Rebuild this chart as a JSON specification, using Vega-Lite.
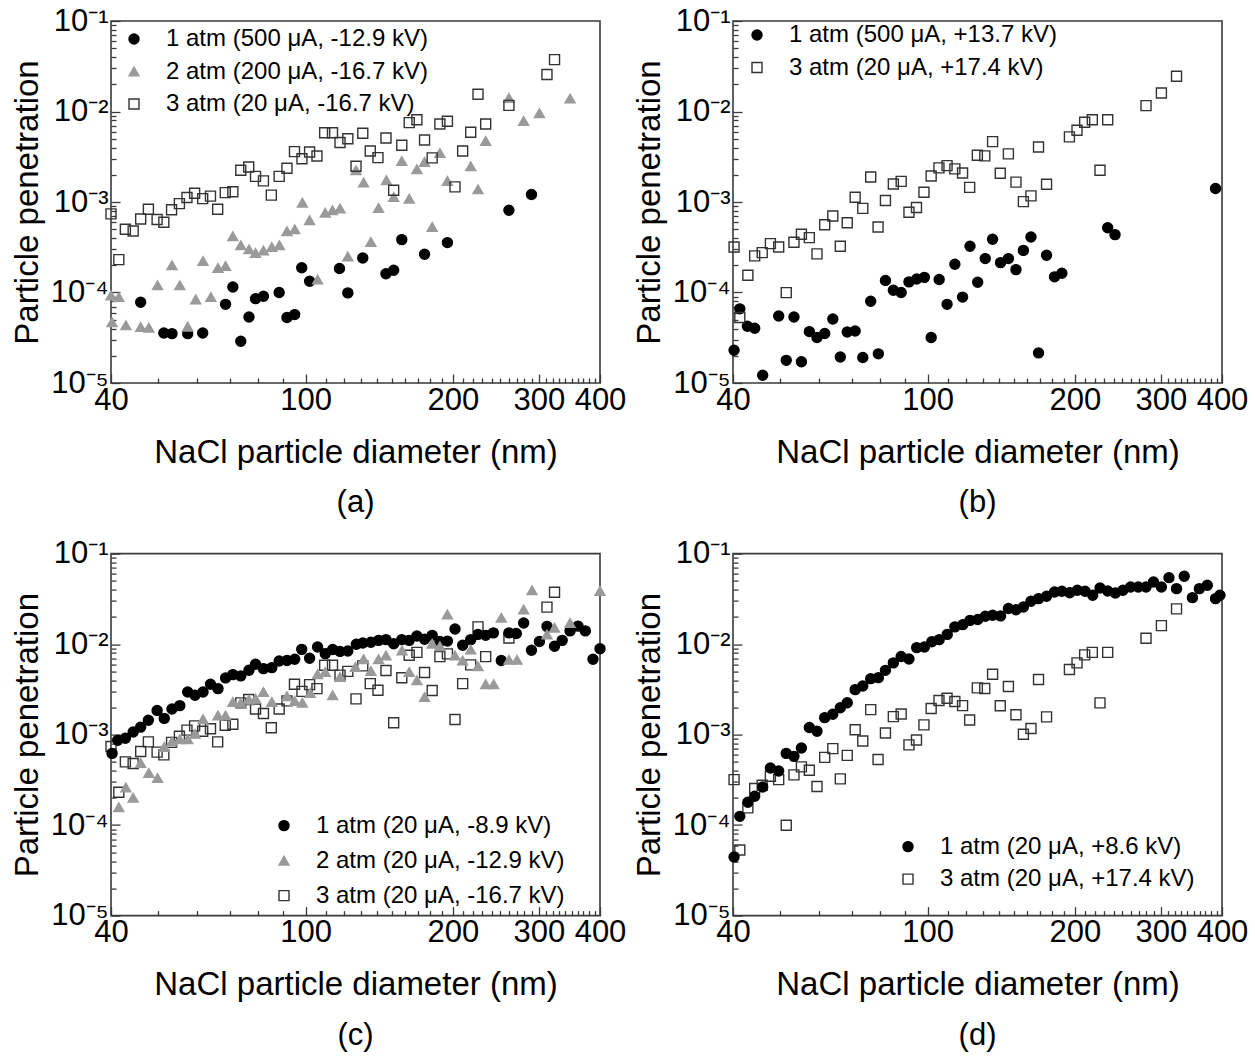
{
"$schema": "https://vega.github.io/schema/vega-lite/v6.json",
"background": "white",
"padding": {"left": 10, "top": 4, "right": 0, "bottom": 0},
"config": {
  "font": "Liberation Sans",
  "view": {"stroke": "#3a3a3a", "strokeWidth": 1.6},
  "axis": {"grid": false, "domain": false, "labelColor": "#000", "titleColor": "#000", "labelFont": "Liberation Sans", "titleFont": "Liberation Sans", "titleFontWeight": "normal", "tickColor": "#3a3a3a", "tickWidth": 1.3, "labelFlush": false, "labelOverlap": false, "labelBound": false},
  "legend": {"title": null, "labelFontSize": 24, "labelFont": "Liberation Sans", "labelColor": "#000", "labelOffset": 20, "padding": 0, "labelLimit": 600, "symbolSize": 100, "symbolStrokeWidth": 1.4, "rowPadding": 8.5, "direction": "vertical", "orient": "none"},
  "title": {"fontSize": 31, "fontWeight": "normal", "orient": "bottom", "offset": 19, "color": "#000", "font": "Liberation Sans", "anchor": "middle"}
},
"data": {"values": [
{"s":"1 atm (500 μA, -12.9 kV)","d":46.0,"p":7.8e-5},{"s":"1 atm (500 μA, -12.9 kV)","d":51.3,"p":3.57e-5},{"s":"1 atm (500 μA, -12.9 kV)","d":53.3,"p":3.51e-5},{"s":"1 atm (500 μA, -12.9 kV)","d":57.4,"p":3.51e-5},{"s":"1 atm (500 μA, -12.9 kV)","d":61.6,"p":3.57e-5},{"s":"1 atm (500 μA, -12.9 kV)","d":68.6,"p":7.4e-5},{"s":"1 atm (500 μA, -12.9 kV)","d":71.0,"p":1.15e-4},{"s":"1 atm (500 μA, -12.9 kV)","d":73.7,"p":2.89e-5},{"s":"1 atm (500 μA, -12.9 kV)","d":76.6,"p":5.36e-5},{"s":"1 atm (500 μA, -12.9 kV)","d":79.0,"p":8.55e-5},{"s":"1 atm (500 μA, -12.9 kV)","d":82.0,"p":9.1e-5},{"s":"1 atm (500 μA, -12.9 kV)","d":88.3,"p":1.0e-4},{"s":"1 atm (500 μA, -12.9 kV)","d":91.6,"p":5.3e-5},{"s":"1 atm (500 μA, -12.9 kV)","d":95.0,"p":5.7e-5},{"s":"1 atm (500 μA, -12.9 kV)","d":98.2,"p":1.88e-4},{"s":"1 atm (500 μA, -12.9 kV)","d":101.9,"p":1.33e-4},{"s":"1 atm (500 μA, -12.9 kV)","d":117.3,"p":1.84e-4},{"s":"1 atm (500 μA, -12.9 kV)","d":122.0,"p":9.9e-5},{"s":"1 atm (500 μA, -12.9 kV)","d":130.9,"p":2.41e-4},{"s":"1 atm (500 μA, -12.9 kV)","d":146.0,"p":1.61e-4},{"s":"1 atm (500 μA, -12.9 kV)","d":151.4,"p":1.76e-4},{"s":"1 atm (500 μA, -12.9 kV)","d":157.3,"p":3.84e-4},{"s":"1 atm (500 μA, -12.9 kV)","d":175.1,"p":2.65e-4},{"s":"1 atm (500 μA, -12.9 kV)","d":195.0,"p":3.56e-4},{"s":"1 atm (500 μA, -12.9 kV)","d":260.5,"p":8.1e-4},{"s":"1 atm (500 μA, -12.9 kV)","d":289.7,"p":1.21e-3},
{"s":"2 atm (200 μA, -16.7 kV)","d":40.0,"p":9.3e-5},{"s":"2 atm (200 μA, -16.7 kV)","d":41.5,"p":8.9e-5},{"s":"2 atm (200 μA, -16.7 kV)","d":40.2,"p":4.7e-5},{"s":"2 atm (200 μA, -16.7 kV)","d":42.9,"p":4.34e-5},{"s":"2 atm (200 μA, -16.7 kV)","d":46.0,"p":4.16e-5},{"s":"2 atm (200 μA, -16.7 kV)","d":47.8,"p":4.08e-5},{"s":"2 atm (200 μA, -16.7 kV)","d":49.8,"p":1.2e-4},{"s":"2 atm (200 μA, -16.7 kV)","d":53.3,"p":2.0e-4},{"s":"2 atm (200 μA, -16.7 kV)","d":55.3,"p":1.2e-4},{"s":"2 atm (200 μA, -16.7 kV)","d":57.4,"p":4.2e-5},{"s":"2 atm (200 μA, -16.7 kV)","d":59.6,"p":8.4e-5},{"s":"2 atm (200 μA, -16.7 kV)","d":61.7,"p":2.23e-4},{"s":"2 atm (200 μA, -16.7 kV)","d":64.0,"p":8.9e-5},{"s":"2 atm (200 μA, -16.7 kV)","d":66.2,"p":1.87e-4},{"s":"2 atm (200 μA, -16.7 kV)","d":68.6,"p":1.96e-4},{"s":"2 atm (200 μA, -16.7 kV)","d":71.0,"p":4.18e-4},{"s":"2 atm (200 μA, -16.7 kV)","d":73.7,"p":3.33e-4},{"s":"2 atm (200 μA, -16.7 kV)","d":76.6,"p":3.0e-4},{"s":"2 atm (200 μA, -16.7 kV)","d":79.0,"p":2.73e-4},{"s":"2 atm (200 μA, -16.7 kV)","d":82.0,"p":2.92e-4},{"s":"2 atm (200 μA, -16.7 kV)","d":85.3,"p":3.18e-4},{"s":"2 atm (200 μA, -16.7 kV)","d":88.4,"p":3.33e-4},{"s":"2 atm (200 μA, -16.7 kV)","d":91.6,"p":4.75e-4},{"s":"2 atm (200 μA, -16.7 kV)","d":95.0,"p":4.99e-4},{"s":"2 atm (200 μA, -16.7 kV)","d":98.5,"p":9.8e-4},{"s":"2 atm (200 μA, -16.7 kV)","d":101.9,"p":6.3e-4},{"s":"2 atm (200 μA, -16.7 kV)","d":105.8,"p":1.39e-4},{"s":"2 atm (200 μA, -16.7 kV)","d":109.7,"p":7.6e-4},{"s":"2 atm (200 μA, -16.7 kV)","d":113.5,"p":8.1e-4},{"s":"2 atm (200 μA, -16.7 kV)","d":117.6,"p":8.5e-4},{"s":"2 atm (200 μA, -16.7 kV)","d":122.0,"p":2.5e-4},{"s":"2 atm (200 μA, -16.7 kV)","d":126.8,"p":2.24e-3},{"s":"2 atm (200 μA, -16.7 kV)","d":131.4,"p":1.64e-3},{"s":"2 atm (200 μA, -16.7 kV)","d":136.0,"p":3.62e-4},{"s":"2 atm (200 μA, -16.7 kV)","d":141.0,"p":8.6e-4},{"s":"2 atm (200 μA, -16.7 kV)","d":146.3,"p":1.74e-3},{"s":"2 atm (200 μA, -16.7 kV)","d":151.4,"p":1.14e-3},{"s":"2 atm (200 μA, -16.7 kV)","d":157.3,"p":2.84e-3},{"s":"2 atm (200 μA, -16.7 kV)","d":162.9,"p":1.09e-3},{"s":"2 atm (200 μA, -16.7 kV)","d":168.9,"p":2.3e-3},{"s":"2 atm (200 μA, -16.7 kV)","d":175.1,"p":2.77e-3},{"s":"2 atm (200 μA, -16.7 kV)","d":181.5,"p":5.3e-4},{"s":"2 atm (200 μA, -16.7 kV)","d":188.2,"p":3.48e-3},{"s":"2 atm (200 μA, -16.7 kV)","d":195.0,"p":1.71e-3},{"s":"2 atm (200 μA, -16.7 kV)","d":217.6,"p":2.48e-3},{"s":"2 atm (200 μA, -16.7 kV)","d":225.2,"p":1.38e-3},{"s":"2 atm (200 μA, -16.7 kV)","d":233.5,"p":4.73e-3},{"s":"2 atm (200 μA, -16.7 kV)","d":260.5,"p":1.41e-2},{"s":"2 atm (200 μA, -16.7 kV)","d":279.2,"p":7.87e-3},{"s":"2 atm (200 μA, -16.7 kV)","d":300.7,"p":9.6e-3},{"s":"2 atm (200 μA, -16.7 kV)","d":347.4,"p":1.39e-2},
{"s":"3 atm (20 μA, -16.7 kV)","d":40.0,"p":7.4e-4},{"s":"3 atm (20 μA, -16.7 kV)","d":41.5,"p":2.31e-4},{"s":"3 atm (20 μA, -16.7 kV)","d":42.8,"p":5.0e-4},{"s":"3 atm (20 μA, -16.7 kV)","d":44.4,"p":4.79e-4},{"s":"3 atm (20 μA, -16.7 kV)","d":46.0,"p":6.5e-4},{"s":"3 atm (20 μA, -16.7 kV)","d":47.7,"p":8.3e-4},{"s":"3 atm (20 μA, -16.7 kV)","d":49.7,"p":6.4e-4},{"s":"3 atm (20 μA, -16.7 kV)","d":51.3,"p":5.97e-4},{"s":"3 atm (20 μA, -16.7 kV)","d":53.2,"p":8.2e-4},{"s":"3 atm (20 μA, -16.7 kV)","d":55.2,"p":9.6e-4},{"s":"3 atm (20 μA, -16.7 kV)","d":57.2,"p":1.12e-3},{"s":"3 atm (20 μA, -16.7 kV)","d":59.3,"p":1.25e-3},{"s":"3 atm (20 μA, -16.7 kV)","d":61.6,"p":1.09e-3},{"s":"3 atm (20 μA, -16.7 kV)","d":63.9,"p":1.16e-3},{"s":"3 atm (20 μA, -16.7 kV)","d":66.1,"p":8.3e-4},{"s":"3 atm (20 μA, -16.7 kV)","d":68.5,"p":1.27e-3},{"s":"3 atm (20 μA, -16.7 kV)","d":71.0,"p":1.3e-3},{"s":"3 atm (20 μA, -16.7 kV)","d":73.7,"p":2.24e-3},{"s":"3 atm (20 μA, -16.7 kV)","d":76.5,"p":2.44e-3},{"s":"3 atm (20 μA, -16.7 kV)","d":79.0,"p":1.92e-3},{"s":"3 atm (20 μA, -16.7 kV)","d":82.0,"p":1.71e-3},{"s":"3 atm (20 μA, -16.7 kV)","d":85.1,"p":1.19e-3},{"s":"3 atm (20 μA, -16.7 kV)","d":88.3,"p":1.92e-3},{"s":"3 atm (20 μA, -16.7 kV)","d":91.6,"p":2.36e-3},{"s":"3 atm (20 μA, -16.7 kV)","d":94.9,"p":3.6e-3},{"s":"3 atm (20 μA, -16.7 kV)","d":98.3,"p":3.0e-3},{"s":"3 atm (20 μA, -16.7 kV)","d":101.9,"p":3.57e-3},{"s":"3 atm (20 μA, -16.7 kV)","d":105.5,"p":3.22e-3},{"s":"3 atm (20 μA, -16.7 kV)","d":109.4,"p":5.83e-3},{"s":"3 atm (20 μA, -16.7 kV)","d":113.5,"p":5.83e-3},{"s":"3 atm (20 μA, -16.7 kV)","d":117.6,"p":4.54e-3},{"s":"3 atm (20 μA, -16.7 kV)","d":122.0,"p":5.0e-3},{"s":"3 atm (20 μA, -16.7 kV)","d":126.8,"p":2.48e-3},{"s":"3 atm (20 μA, -16.7 kV)","d":130.9,"p":5.74e-3},{"s":"3 atm (20 μA, -16.7 kV)","d":135.6,"p":3.66e-3},{"s":"3 atm (20 μA, -16.7 kV)","d":140.6,"p":3.09e-3},{"s":"3 atm (20 μA, -16.7 kV)","d":146.0,"p":5.1e-3},{"s":"3 atm (20 μA, -16.7 kV)","d":151.4,"p":1.35e-3},{"s":"3 atm (20 μA, -16.7 kV)","d":157.3,"p":4.24e-3},{"s":"3 atm (20 μA, -16.7 kV)","d":162.9,"p":7.54e-3},{"s":"3 atm (20 μA, -16.7 kV)","d":168.9,"p":8.1e-3},{"s":"3 atm (20 μA, -16.7 kV)","d":175.1,"p":4.85e-3},{"s":"3 atm (20 μA, -16.7 kV)","d":181.5,"p":3.07e-3},{"s":"3 atm (20 μA, -16.7 kV)","d":188.2,"p":7.28e-3},{"s":"3 atm (20 μA, -16.7 kV)","d":195.0,"p":7.8e-3},{"s":"3 atm (20 μA, -16.7 kV)","d":202.1,"p":1.47e-3},{"s":"3 atm (20 μA, -16.7 kV)","d":209.5,"p":3.66e-3},{"s":"3 atm (20 μA, -16.7 kV)","d":217.6,"p":5.9e-3},{"s":"3 atm (20 μA, -16.7 kV)","d":225.2,"p":1.55e-2},{"s":"3 atm (20 μA, -16.7 kV)","d":233.5,"p":7.28e-3},{"s":"3 atm (20 μA, -16.7 kV)","d":260.5,"p":1.17e-2},{"s":"3 atm (20 μA, -16.7 kV)","d":311.6,"p":2.56e-2},{"s":"3 atm (20 μA, -16.7 kV)","d":322.9,"p":3.74e-2},
{"s":"1 atm (500 μA, +13.7 kV)","d":40.2,"p":2.3e-5},{"s":"1 atm (500 μA, +13.7 kV)","d":41.3,"p":6.6e-5},{"s":"1 atm (500 μA, +13.7 kV)","d":42.8,"p":4.24e-5},{"s":"1 atm (500 μA, +13.7 kV)","d":44.3,"p":4.03e-5},{"s":"1 atm (500 μA, +13.7 kV)","d":46.0,"p":1.22e-5},{"s":"1 atm (500 μA, +13.7 kV)","d":49.6,"p":5.5e-5},{"s":"1 atm (500 μA, +13.7 kV)","d":51.4,"p":1.78e-5},{"s":"1 atm (500 μA, +13.7 kV)","d":53.3,"p":5.37e-5},{"s":"1 atm (500 μA, +13.7 kV)","d":55.2,"p":1.72e-5},{"s":"1 atm (500 μA, +13.7 kV)","d":57.3,"p":3.7e-5},{"s":"1 atm (500 μA, +13.7 kV)","d":59.4,"p":3.18e-5},{"s":"1 atm (500 μA, +13.7 kV)","d":61.6,"p":3.52e-5},{"s":"1 atm (500 μA, +13.7 kV)","d":64.0,"p":5.1e-5},{"s":"1 atm (500 μA, +13.7 kV)","d":66.3,"p":1.94e-5},{"s":"1 atm (500 μA, +13.7 kV)","d":68.5,"p":3.66e-5},{"s":"1 atm (500 μA, +13.7 kV)","d":71.1,"p":3.76e-5},{"s":"1 atm (500 μA, +13.7 kV)","d":73.7,"p":1.91e-5},{"s":"1 atm (500 μA, +13.7 kV)","d":76.5,"p":8.0e-5},{"s":"1 atm (500 μA, +13.7 kV)","d":79.3,"p":2.1e-5},{"s":"1 atm (500 μA, +13.7 kV)","d":82.0,"p":1.36e-4},{"s":"1 atm (500 μA, +13.7 kV)","d":85.1,"p":1.06e-4},{"s":"1 atm (500 μA, +13.7 kV)","d":88.3,"p":1.0e-4},{"s":"1 atm (500 μA, +13.7 kV)","d":91.6,"p":1.31e-4},{"s":"1 atm (500 μA, +13.7 kV)","d":95.0,"p":1.41e-4},{"s":"1 atm (500 μA, +13.7 kV)","d":98.5,"p":1.47e-4},{"s":"1 atm (500 μA, +13.7 kV)","d":101.7,"p":3.18e-5},{"s":"1 atm (500 μA, +13.7 kV)","d":105.6,"p":1.39e-4},{"s":"1 atm (500 μA, +13.7 kV)","d":109.6,"p":7.4e-5},{"s":"1 atm (500 μA, +13.7 kV)","d":113.7,"p":2.05e-4},{"s":"1 atm (500 μA, +13.7 kV)","d":117.9,"p":8.9e-5},{"s":"1 atm (500 μA, +13.7 kV)","d":122.1,"p":3.24e-4},{"s":"1 atm (500 μA, +13.7 kV)","d":126.6,"p":1.3e-4},{"s":"1 atm (500 μA, +13.7 kV)","d":131.2,"p":2.37e-4},{"s":"1 atm (500 μA, +13.7 kV)","d":135.8,"p":3.87e-4},{"s":"1 atm (500 μA, +13.7 kV)","d":141.0,"p":2.14e-4},{"s":"1 atm (500 μA, +13.7 kV)","d":146.3,"p":2.37e-4},{"s":"1 atm (500 μA, +13.7 kV)","d":151.6,"p":1.79e-4},{"s":"1 atm (500 μA, +13.7 kV)","d":157.0,"p":2.92e-4},{"s":"1 atm (500 μA, +13.7 kV)","d":162.7,"p":4.1e-4},{"s":"1 atm (500 μA, +13.7 kV)","d":168.6,"p":2.15e-5},{"s":"1 atm (500 μA, +13.7 kV)","d":175.1,"p":2.58e-4},{"s":"1 atm (500 μA, +13.7 kV)","d":181.8,"p":1.49e-4},{"s":"1 atm (500 μA, +13.7 kV)","d":188.2,"p":1.63e-4},{"s":"1 atm (500 μA, +13.7 kV)","d":233.5,"p":5.2e-4},{"s":"1 atm (500 μA, +13.7 kV)","d":241.7,"p":4.36e-4},{"s":"1 atm (500 μA, +13.7 kV)","d":388.0,"p":1.41e-3},
{"s":"3 atm (20 μA, +17.4 kV)","d":40.2,"p":3.18e-4},{"s":"3 atm (20 μA, +17.4 kV)","d":41.3,"p":5.3e-5},{"s":"3 atm (20 μA, +17.4 kV)","d":42.9,"p":1.55e-4},{"s":"3 atm (20 μA, +17.4 kV)","d":44.3,"p":2.54e-4},{"s":"3 atm (20 μA, +17.4 kV)","d":45.9,"p":2.76e-4},{"s":"3 atm (20 μA, +17.4 kV)","d":47.7,"p":3.47e-4},{"s":"3 atm (20 μA, +17.4 kV)","d":49.6,"p":3.18e-4},{"s":"3 atm (20 μA, +17.4 kV)","d":51.4,"p":9.97e-5},{"s":"3 atm (20 μA, +17.4 kV)","d":53.3,"p":3.59e-4},{"s":"3 atm (20 μA, +17.4 kV)","d":55.2,"p":4.4e-4},{"s":"3 atm (20 μA, +17.4 kV)","d":57.3,"p":4.04e-4},{"s":"3 atm (20 μA, +17.4 kV)","d":59.4,"p":2.67e-4},{"s":"3 atm (20 μA, +17.4 kV)","d":61.6,"p":5.6e-4},{"s":"3 atm (20 μA, +17.4 kV)","d":64.0,"p":7.0e-4},{"s":"3 atm (20 μA, +17.4 kV)","d":66.3,"p":3.24e-4},{"s":"3 atm (20 μA, +17.4 kV)","d":68.5,"p":5.9e-4},{"s":"3 atm (20 μA, +17.4 kV)","d":71.1,"p":1.13e-3},{"s":"3 atm (20 μA, +17.4 kV)","d":73.7,"p":8.5e-4},{"s":"3 atm (20 μA, +17.4 kV)","d":76.5,"p":1.89e-3},{"s":"3 atm (20 μA, +17.4 kV)","d":79.2,"p":5.3e-4},{"s":"3 atm (20 μA, +17.4 kV)","d":82.0,"p":1.04e-3},{"s":"3 atm (20 μA, +17.4 kV)","d":85.1,"p":1.58e-3},{"s":"3 atm (20 μA, +17.4 kV)","d":88.3,"p":1.69e-3},{"s":"3 atm (20 μA, +17.4 kV)","d":91.6,"p":7.7e-4},{"s":"3 atm (20 μA, +17.4 kV)","d":94.9,"p":8.7e-4},{"s":"3 atm (20 μA, +17.4 kV)","d":98.3,"p":1.28e-3},{"s":"3 atm (20 μA, +17.4 kV)","d":101.7,"p":1.94e-3},{"s":"3 atm (20 μA, +17.4 kV)","d":105.5,"p":2.38e-3},{"s":"3 atm (20 μA, +17.4 kV)","d":109.6,"p":2.52e-3},{"s":"3 atm (20 μA, +17.4 kV)","d":113.7,"p":2.32e-3},{"s":"3 atm (20 μA, +17.4 kV)","d":117.9,"p":2.09e-3},{"s":"3 atm (20 μA, +17.4 kV)","d":121.9,"p":1.45e-3},{"s":"3 atm (20 μA, +17.4 kV)","d":126.4,"p":3.28e-3},{"s":"3 atm (20 μA, +17.4 kV)","d":130.9,"p":3.23e-3},{"s":"3 atm (20 μA, +17.4 kV)","d":135.8,"p":4.65e-3},{"s":"3 atm (20 μA, +17.4 kV)","d":140.8,"p":2.08e-3},{"s":"3 atm (20 μA, +17.4 kV)","d":146.3,"p":3.4e-3},{"s":"3 atm (20 μA, +17.4 kV)","d":151.6,"p":1.66e-3},{"s":"3 atm (20 μA, +17.4 kV)","d":157.0,"p":1.01e-3},{"s":"3 atm (20 μA, +17.4 kV)","d":162.7,"p":1.17e-3},{"s":"3 atm (20 μA, +17.4 kV)","d":168.6,"p":4.06e-3},{"s":"3 atm (20 μA, +17.4 kV)","d":175.1,"p":1.57e-3},{"s":"3 atm (20 μA, +17.4 kV)","d":195.0,"p":5.24e-3},{"s":"3 atm (20 μA, +17.4 kV)","d":202.1,"p":6.2e-3},{"s":"3 atm (20 μA, +17.4 kV)","d":209.5,"p":7.6e-3},{"s":"3 atm (20 μA, +17.4 kV)","d":217.2,"p":8.1e-3},{"s":"3 atm (20 μA, +17.4 kV)","d":225.2,"p":2.24e-3},{"s":"3 atm (20 μA, +17.4 kV)","d":233.5,"p":8.1e-3},{"s":"3 atm (20 μA, +17.4 kV)","d":279.7,"p":1.16e-2},{"s":"3 atm (20 μA, +17.4 kV)","d":300.7,"p":1.6e-2},{"s":"3 atm (20 μA, +17.4 kV)","d":322.9,"p":2.45e-2},
{"s":"1 atm (20 μA, -8.9 kV)","d":40.2,"p":6.2e-4},{"s":"1 atm (20 μA, -8.9 kV)","d":41.3,"p":8.65e-4},{"s":"1 atm (20 μA, -8.9 kV)","d":42.8,"p":9.1e-4},{"s":"1 atm (20 μA, -8.9 kV)","d":44.4,"p":1.07e-3},{"s":"1 atm (20 μA, -8.9 kV)","d":46.0,"p":1.21e-3},{"s":"1 atm (20 μA, -8.9 kV)","d":47.7,"p":1.44e-3},{"s":"1 atm (20 μA, -8.9 kV)","d":49.7,"p":1.85e-3},{"s":"1 atm (20 μA, -8.9 kV)","d":51.4,"p":1.51e-3},{"s":"1 atm (20 μA, -8.9 kV)","d":53.3,"p":1.92e-3},{"s":"1 atm (20 μA, -8.9 kV)","d":55.3,"p":2.09e-3},{"s":"1 atm (20 μA, -8.9 kV)","d":57.4,"p":2.96e-3},{"s":"1 atm (20 μA, -8.9 kV)","d":59.4,"p":2.72e-3},{"s":"1 atm (20 μA, -8.9 kV)","d":61.7,"p":2.96e-3},{"s":"1 atm (20 μA, -8.9 kV)","d":63.9,"p":3.6e-3},{"s":"1 atm (20 μA, -8.9 kV)","d":66.2,"p":3.22e-3},{"s":"1 atm (20 μA, -8.9 kV)","d":68.6,"p":4.23e-3},{"s":"1 atm (20 μA, -8.9 kV)","d":71.0,"p":4.6e-3},{"s":"1 atm (20 μA, -8.9 kV)","d":73.7,"p":4.45e-3},{"s":"1 atm (20 μA, -8.9 kV)","d":76.6,"p":5.14e-3},{"s":"1 atm (20 μA, -8.9 kV)","d":79.0,"p":5.98e-3},{"s":"1 atm (20 μA, -8.9 kV)","d":82.0,"p":5.36e-3},{"s":"1 atm (20 μA, -8.9 kV)","d":85.3,"p":5.5e-3},{"s":"1 atm (20 μA, -8.9 kV)","d":88.3,"p":6.5e-3},{"s":"1 atm (20 μA, -8.9 kV)","d":91.6,"p":6.6e-3},{"s":"1 atm (20 μA, -8.9 kV)","d":95.0,"p":6.8e-3},{"s":"1 atm (20 μA, -8.9 kV)","d":98.2,"p":8.75e-3},{"s":"1 atm (20 μA, -8.9 kV)","d":101.9,"p":6.97e-3},{"s":"1 atm (20 μA, -8.9 kV)","d":105.8,"p":9.3e-3},{"s":"1 atm (20 μA, -8.9 kV)","d":109.7,"p":7.85e-3},{"s":"1 atm (20 μA, -8.9 kV)","d":113.6,"p":8.7e-3},{"s":"1 atm (20 μA, -8.9 kV)","d":117.6,"p":8.3e-3},{"s":"1 atm (20 μA, -8.9 kV)","d":122.0,"p":8.4e-3},{"s":"1 atm (20 μA, -8.9 kV)","d":127.0,"p":9.95e-3},{"s":"1 atm (20 μA, -8.9 kV)","d":130.9,"p":1.03e-2},{"s":"1 atm (20 μA, -8.9 kV)","d":136.0,"p":1.05e-2},{"s":"1 atm (20 μA, -8.9 kV)","d":141.0,"p":1.1e-2},{"s":"1 atm (20 μA, -8.9 kV)","d":146.0,"p":1.12e-2},{"s":"1 atm (20 μA, -8.9 kV)","d":151.4,"p":1.01e-2},{"s":"1 atm (20 μA, -8.9 kV)","d":157.3,"p":1.12e-2},{"s":"1 atm (20 μA, -8.9 kV)","d":162.9,"p":1.1e-2},{"s":"1 atm (20 μA, -8.9 kV)","d":168.9,"p":1.23e-2},{"s":"1 atm (20 μA, -8.9 kV)","d":175.1,"p":1.13e-2},{"s":"1 atm (20 μA, -8.9 kV)","d":181.5,"p":1.25e-2},{"s":"1 atm (20 μA, -8.9 kV)","d":188.2,"p":1.07e-2},{"s":"1 atm (20 μA, -8.9 kV)","d":195.0,"p":1.08e-2},{"s":"1 atm (20 μA, -8.9 kV)","d":202.1,"p":1.47e-2},{"s":"1 atm (20 μA, -8.9 kV)","d":209.5,"p":9.7e-3},{"s":"1 atm (20 μA, -8.9 kV)","d":217.6,"p":1.12e-2},{"s":"1 atm (20 μA, -8.9 kV)","d":225.2,"p":1.28e-2},{"s":"1 atm (20 μA, -8.9 kV)","d":233.5,"p":1.25e-2},{"s":"1 atm (20 μA, -8.9 kV)","d":242.1,"p":1.33e-2},{"s":"1 atm (20 μA, -8.9 kV)","d":251.3,"p":6.6e-3},{"s":"1 atm (20 μA, -8.9 kV)","d":260.5,"p":1.33e-2},{"s":"1 atm (20 μA, -8.9 kV)","d":269.7,"p":1.31e-2},{"s":"1 atm (20 μA, -8.9 kV)","d":279.2,"p":1.71e-2},{"s":"1 atm (20 μA, -8.9 kV)","d":289.7,"p":8.55e-3},{"s":"1 atm (20 μA, -8.9 kV)","d":300.7,"p":1.07e-2},{"s":"1 atm (20 μA, -8.9 kV)","d":311.6,"p":1.57e-2},{"s":"1 atm (20 μA, -8.9 kV)","d":322.9,"p":9.46e-3},{"s":"1 atm (20 μA, -8.9 kV)","d":334.8,"p":1.1e-2},{"s":"1 atm (20 μA, -8.9 kV)","d":347.4,"p":1.4e-2},{"s":"1 atm (20 μA, -8.9 kV)","d":360.6,"p":1.58e-2},{"s":"1 atm (20 μA, -8.9 kV)","d":373.3,"p":1.4e-2},{"s":"1 atm (20 μA, -8.9 kV)","d":387.0,"p":6.8e-3},{"s":"1 atm (20 μA, -8.9 kV)","d":400.0,"p":8.9e-3},
{"s":"2 atm (20 μA, -12.9 kV)","d":41.5,"p":1.58e-4},{"s":"2 atm (20 μA, -12.9 kV)","d":42.9,"p":2.6e-4},{"s":"2 atm (20 μA, -12.9 kV)","d":44.4,"p":2.01e-4},{"s":"2 atm (20 μA, -12.9 kV)","d":46.0,"p":4.86e-4},{"s":"2 atm (20 μA, -12.9 kV)","d":47.8,"p":3.77e-4},{"s":"2 atm (20 μA, -12.9 kV)","d":49.8,"p":3.32e-4},{"s":"2 atm (20 μA, -12.9 kV)","d":51.4,"p":7.3e-4},{"s":"2 atm (20 μA, -12.9 kV)","d":53.3,"p":8.4e-4},{"s":"2 atm (20 μA, -12.9 kV)","d":55.3,"p":8.9e-4},{"s":"2 atm (20 μA, -12.9 kV)","d":57.4,"p":8.9e-4},{"s":"2 atm (20 μA, -12.9 kV)","d":59.4,"p":1.02e-3},{"s":"2 atm (20 μA, -12.9 kV)","d":61.7,"p":1.48e-3},{"s":"2 atm (20 μA, -12.9 kV)","d":66.2,"p":1.63e-3},{"s":"2 atm (20 μA, -12.9 kV)","d":68.6,"p":1.63e-3},{"s":"2 atm (20 μA, -12.9 kV)","d":71.0,"p":2.29e-3},{"s":"2 atm (20 μA, -12.9 kV)","d":73.7,"p":2.25e-3},{"s":"2 atm (20 μA, -12.9 kV)","d":76.6,"p":2.43e-3},{"s":"2 atm (20 μA, -12.9 kV)","d":79.0,"p":2.49e-3},{"s":"2 atm (20 μA, -12.9 kV)","d":82.0,"p":2.96e-3},{"s":"2 atm (20 μA, -12.9 kV)","d":85.3,"p":2.29e-3},{"s":"2 atm (20 μA, -12.9 kV)","d":91.6,"p":2.65e-3},{"s":"2 atm (20 μA, -12.9 kV)","d":95.0,"p":2.36e-3},{"s":"2 atm (20 μA, -12.9 kV)","d":98.5,"p":2.25e-3},{"s":"2 atm (20 μA, -12.9 kV)","d":102.2,"p":2.88e-3},{"s":"2 atm (20 μA, -12.9 kV)","d":105.8,"p":4.64e-3},{"s":"2 atm (20 μA, -12.9 kV)","d":109.7,"p":4.92e-3},{"s":"2 atm (20 μA, -12.9 kV)","d":113.6,"p":2.72e-3},{"s":"2 atm (20 μA, -12.9 kV)","d":117.6,"p":4.34e-3},{"s":"2 atm (20 μA, -12.9 kV)","d":126.4,"p":5.59e-3},{"s":"2 atm (20 μA, -12.9 kV)","d":131.4,"p":6.8e-3},{"s":"2 atm (20 μA, -12.9 kV)","d":136.0,"p":5.05e-3},{"s":"2 atm (20 μA, -12.9 kV)","d":141.0,"p":6.8e-3},{"s":"2 atm (20 μA, -12.9 kV)","d":146.0,"p":7.5e-3},{"s":"2 atm (20 μA, -12.9 kV)","d":157.5,"p":8.5e-3},{"s":"2 atm (20 μA, -12.9 kV)","d":162.9,"p":4.92e-3},{"s":"2 atm (20 μA, -12.9 kV)","d":168.9,"p":3.98e-3},{"s":"2 atm (20 μA, -12.9 kV)","d":175.1,"p":2.61e-3},{"s":"2 atm (20 μA, -12.9 kV)","d":181.5,"p":1.01e-2},{"s":"2 atm (20 μA, -12.9 kV)","d":188.2,"p":9.46e-3},{"s":"2 atm (20 μA, -12.9 kV)","d":195.0,"p":2.13e-2},{"s":"2 atm (20 μA, -12.9 kV)","d":202.1,"p":7.5e-3},{"s":"2 atm (20 μA, -12.9 kV)","d":209.5,"p":6.6e-3},{"s":"2 atm (20 μA, -12.9 kV)","d":217.6,"p":8.7e-3},{"s":"2 atm (20 μA, -12.9 kV)","d":225.2,"p":5.69e-3},{"s":"2 atm (20 μA, -12.9 kV)","d":233.5,"p":3.6e-3},{"s":"2 atm (20 μA, -12.9 kV)","d":242.5,"p":3.6e-3},{"s":"2 atm (20 μA, -12.9 kV)","d":251.3,"p":1.96e-2},{"s":"2 atm (20 μA, -12.9 kV)","d":260.5,"p":6.7e-3},{"s":"2 atm (20 μA, -12.9 kV)","d":270.6,"p":6.7e-3},{"s":"2 atm (20 μA, -12.9 kV)","d":279.2,"p":2.42e-2},{"s":"2 atm (20 μA, -12.9 kV)","d":290.4,"p":3.93e-2},{"s":"2 atm (20 μA, -12.9 kV)","d":311.6,"p":1.28e-2},{"s":"2 atm (20 μA, -12.9 kV)","d":322.9,"p":1.52e-2},{"s":"2 atm (20 μA, -12.9 kV)","d":347.4,"p":1.71e-2},{"s":"2 atm (20 μA, -12.9 kV)","d":400.0,"p":3.86e-2},
{"s":"1 atm (20 μA, +8.6 kV)","d":40.2,"p":4.45e-5},{"s":"1 atm (20 μA, +8.6 kV)","d":41.3,"p":1.25e-4},{"s":"1 atm (20 μA, +8.6 kV)","d":42.9,"p":1.79e-4},{"s":"1 atm (20 μA, +8.6 kV)","d":44.3,"p":2.08e-4},{"s":"1 atm (20 μA, +8.6 kV)","d":46.0,"p":2.64e-4},{"s":"1 atm (20 μA, +8.6 kV)","d":47.7,"p":4.28e-4},{"s":"1 atm (20 μA, +8.6 kV)","d":49.6,"p":3.96e-4},{"s":"1 atm (20 μA, +8.6 kV)","d":51.4,"p":6.2e-4},{"s":"1 atm (20 μA, +8.6 kV)","d":53.3,"p":5.75e-4},{"s":"1 atm (20 μA, +8.6 kV)","d":55.2,"p":7.1e-4},{"s":"1 atm (20 μA, +8.6 kV)","d":57.3,"p":1.2e-3},{"s":"1 atm (20 μA, +8.6 kV)","d":59.4,"p":1.09e-3},{"s":"1 atm (20 μA, +8.6 kV)","d":61.6,"p":1.54e-3},{"s":"1 atm (20 μA, +8.6 kV)","d":64.0,"p":1.68e-3},{"s":"1 atm (20 μA, +8.6 kV)","d":66.3,"p":1.98e-3},{"s":"1 atm (20 μA, +8.6 kV)","d":68.5,"p":2.25e-3},{"s":"1 atm (20 μA, +8.6 kV)","d":71.1,"p":3.14e-3},{"s":"1 atm (20 μA, +8.6 kV)","d":73.7,"p":3.44e-3},{"s":"1 atm (20 μA, +8.6 kV)","d":76.5,"p":4.15e-3},{"s":"1 atm (20 μA, +8.6 kV)","d":79.3,"p":4.26e-3},{"s":"1 atm (20 μA, +8.6 kV)","d":82.0,"p":5.13e-3},{"s":"1 atm (20 μA, +8.6 kV)","d":85.1,"p":6.2e-3},{"s":"1 atm (20 μA, +8.6 kV)","d":88.3,"p":7.3e-3},{"s":"1 atm (20 μA, +8.6 kV)","d":91.6,"p":6.85e-3},{"s":"1 atm (20 μA, +8.6 kV)","d":95.0,"p":9.14e-3},{"s":"1 atm (20 μA, +8.6 kV)","d":98.5,"p":9.3e-3},{"s":"1 atm (20 μA, +8.6 kV)","d":102.0,"p":1.06e-2},{"s":"1 atm (20 μA, +8.6 kV)","d":105.6,"p":1.12e-2},{"s":"1 atm (20 μA, +8.6 kV)","d":109.7,"p":1.28e-2},{"s":"1 atm (20 μA, +8.6 kV)","d":113.7,"p":1.55e-2},{"s":"1 atm (20 μA, +8.6 kV)","d":118.0,"p":1.64e-2},{"s":"1 atm (20 μA, +8.6 kV)","d":122.1,"p":1.83e-2},{"s":"1 atm (20 μA, +8.6 kV)","d":126.6,"p":1.87e-2},{"s":"1 atm (20 μA, +8.6 kV)","d":131.2,"p":2.03e-2},{"s":"1 atm (20 μA, +8.6 kV)","d":135.8,"p":2.08e-2},{"s":"1 atm (20 μA, +8.6 kV)","d":141.0,"p":2.05e-2},{"s":"1 atm (20 μA, +8.6 kV)","d":146.3,"p":2.47e-2},{"s":"1 atm (20 μA, +8.6 kV)","d":151.6,"p":2.4e-2},{"s":"1 atm (20 μA, +8.6 kV)","d":157.0,"p":2.57e-2},{"s":"1 atm (20 μA, +8.6 kV)","d":162.7,"p":2.97e-2},{"s":"1 atm (20 μA, +8.6 kV)","d":168.6,"p":3.18e-2},{"s":"1 atm (20 μA, +8.6 kV)","d":175.1,"p":3.38e-2},{"s":"1 atm (20 μA, +8.6 kV)","d":181.8,"p":3.77e-2},{"s":"1 atm (20 μA, +8.6 kV)","d":188.2,"p":3.83e-2},{"s":"1 atm (20 μA, +8.6 kV)","d":195.3,"p":3.7e-2},{"s":"1 atm (20 μA, +8.6 kV)","d":202.4,"p":3.93e-2},{"s":"1 atm (20 μA, +8.6 kV)","d":209.9,"p":3.83e-2},{"s":"1 atm (20 μA, +8.6 kV)","d":217.6,"p":3.46e-2},{"s":"1 atm (20 μA, +8.6 kV)","d":225.2,"p":4.17e-2},{"s":"1 atm (20 μA, +8.6 kV)","d":233.5,"p":3.86e-2},{"s":"1 atm (20 μA, +8.6 kV)","d":242.1,"p":3.67e-2},{"s":"1 atm (20 μA, +8.6 kV)","d":250.9,"p":3.93e-2},{"s":"1 atm (20 μA, +8.6 kV)","d":260.1,"p":4.28e-2},{"s":"1 atm (20 μA, +8.6 kV)","d":269.7,"p":4.28e-2},{"s":"1 atm (20 μA, +8.6 kV)","d":279.7,"p":4.28e-2},{"s":"1 atm (20 μA, +8.6 kV)","d":289.7,"p":4.86e-2},{"s":"1 atm (20 μA, +8.6 kV)","d":300.7,"p":4.28e-2},{"s":"1 atm (20 μA, +8.6 kV)","d":311.6,"p":5.42e-2},{"s":"1 atm (20 μA, +8.6 kV)","d":322.9,"p":4.1e-2},{"s":"1 atm (20 μA, +8.6 kV)","d":334.8,"p":5.61e-2},{"s":"1 atm (20 μA, +8.6 kV)","d":348.0,"p":3.26e-2},{"s":"1 atm (20 μA, +8.6 kV)","d":359.6,"p":4.1e-2},{"s":"1 atm (20 μA, +8.6 kV)","d":373.3,"p":4.47e-2},{"s":"1 atm (20 μA, +8.6 kV)","d":388.0,"p":3.18e-2},{"s":"1 atm (20 μA, +8.6 kV)","d":396.2,"p":3.46e-2}
]},
"columns": 2,
"spacing": {"row": 170.6, "column": 133},
"bounds": "flush",
"resolve": {"scale": {"shape": "independent", "fill": "independent", "stroke": "independent"}},
"concat": [
{
 "width": 489, "height": 362,
 "title": {"text": "(a)"},
 "transform": [{"filter": {"field": "s", "oneOf": ["1 atm (500 μA, -12.9 kV)", "2 atm (200 μA, -16.7 kV)", "3 atm (20 μA, -16.7 kV)"]}}],
 "mark": {"type": "point", "size": 100, "strokeWidth": 1.4, "opacity": 1},
 "encoding": {
  "x": {"field": "d", "type": "quantitative", "title": "NaCl particle diameter (nm)", "scale": {"type": "log", "domain": [40, 400], "nice": false},
        "axis": {"values": [40,50,60,70,80,90,100,110,120,130,140,150,160,170,180,190,200,210,220,230,240,250,260,270,280,290,300,310,320,330,340,350,360,370,380,390,400], "format": "d",
                 "labelExpr": "(datum.value==40||datum.value==100||datum.value==200||datum.value==300||datum.value==400) ? datum.label : ''",
                 "tickSize": {"condition": {"test": "datum.value==40||datum.value==100||datum.value==200||datum.value==300||datum.value==400", "value": -9}, "value": -5},
                 "labelPadding": 11, "labelFontSize": 31, "titleFontSize": 33, "titlePadding": 17}},
  "y": {"field": "p", "type": "quantitative", "title": "Particle penetration", "scale": {"type": "log", "domain": [0.00001, 0.1], "nice": false},
        "axis": {"values": [0.00001,0.00002,0.00003,0.00004,0.00005,0.00006,0.00007,0.00008,0.00009,0.0001,0.0002,0.0003,0.0004,0.0005,0.0006,0.0007,0.0008,0.0009,0.001,0.002,0.003,0.004,0.005,0.006,0.007,0.008,0.009,0.01,0.02,0.03,0.04,0.05,0.06,0.07,0.08,0.09,0.1],
                 "labelExpr": "datum.value==0.1 ? '10⁻¹' : datum.value==0.01 ? '10⁻²' : datum.value==0.001 ? '10⁻³' : datum.value==0.0001 ? '10⁻⁴' : datum.value==0.00001 ? '10⁻⁵' : ''",
                 "tickSize": {"condition": {"test": "datum.value==0.1||datum.value==0.01||datum.value==0.001||datum.value==0.0001||datum.value==0.00001", "value": -9}, "value": -5},
                 "labelPadding": 12, "labelFontSize": 31, "titleFontSize": 33, "titlePadding": 6}},
  "shape": {"field": "s", "type": "nominal", "scale": {"domain": ["1 atm (500 μA, -12.9 kV)", "2 atm (200 μA, -16.7 kV)", "3 atm (20 μA, -16.7 kV)"], "range": ["circle", "triangle-up", "square"]}, "legend": {"legendX": 11, "legendY": 6}},
  "fill": {"field": "s", "type": "nominal", "scale": {"domain": ["1 atm (500 μA, -12.9 kV)", "2 atm (200 μA, -16.7 kV)", "3 atm (20 μA, -16.7 kV)"], "range": ["#000000", "#9a9a9a", "transparent"]}, "legend": {"legendX": 11, "legendY": 6}},
  "stroke": {"field": "s", "type": "nominal", "scale": {"domain": ["1 atm (500 μA, -12.9 kV)", "2 atm (200 μA, -16.7 kV)", "3 atm (20 μA, -16.7 kV)"], "range": ["#000000", "#9a9a9a", "#333333"]}, "legend": {"legendX": 11, "legendY": 6}}
 }
},
{
 "width": 489, "height": 362,
 "title": {"text": "(b)"},
 "transform": [{"filter": {"field": "s", "oneOf": ["1 atm (500 μA, +13.7 kV)", "3 atm (20 μA, +17.4 kV)"]}}],
 "mark": {"type": "point", "size": 100, "strokeWidth": 1.4, "opacity": 1},
 "encoding": {
  "x": {"field": "d", "type": "quantitative", "title": "NaCl particle diameter (nm)", "scale": {"type": "log", "domain": [40, 400], "nice": false},
        "axis": {"values": [40,50,60,70,80,90,100,110,120,130,140,150,160,170,180,190,200,210,220,230,240,250,260,270,280,290,300,310,320,330,340,350,360,370,380,390,400], "format": "d",
                 "labelExpr": "(datum.value==40||datum.value==100||datum.value==200||datum.value==300||datum.value==400) ? datum.label : ''",
                 "tickSize": {"condition": {"test": "datum.value==40||datum.value==100||datum.value==200||datum.value==300||datum.value==400", "value": -9}, "value": -5},
                 "labelPadding": 11, "labelFontSize": 31, "titleFontSize": 33, "titlePadding": 17}},
  "y": {"field": "p", "type": "quantitative", "title": "Particle penetration", "scale": {"type": "log", "domain": [0.00001, 0.1], "nice": false},
        "axis": {"values": [0.00001,0.00002,0.00003,0.00004,0.00005,0.00006,0.00007,0.00008,0.00009,0.0001,0.0002,0.0003,0.0004,0.0005,0.0006,0.0007,0.0008,0.0009,0.001,0.002,0.003,0.004,0.005,0.006,0.007,0.008,0.009,0.01,0.02,0.03,0.04,0.05,0.06,0.07,0.08,0.09,0.1],
                 "labelExpr": "datum.value==0.1 ? '10⁻¹' : datum.value==0.01 ? '10⁻²' : datum.value==0.001 ? '10⁻³' : datum.value==0.0001 ? '10⁻⁴' : datum.value==0.00001 ? '10⁻⁵' : ''",
                 "tickSize": {"condition": {"test": "datum.value==0.1||datum.value==0.01||datum.value==0.001||datum.value==0.0001||datum.value==0.00001", "value": -9}, "value": -5},
                 "labelPadding": 12, "labelFontSize": 31, "titleFontSize": 33, "titlePadding": 6}},
  "shape": {"field": "s", "type": "nominal", "scale": {"domain": ["1 atm (500 μA, +13.7 kV)", "3 atm (20 μA, +17.4 kV)"], "range": ["circle", "square"]}, "legend": {"legendX": 12, "legendY": 2}},
  "fill": {"field": "s", "type": "nominal", "scale": {"domain": ["1 atm (500 μA, +13.7 kV)", "3 atm (20 μA, +17.4 kV)"], "range": ["#000000", "transparent"]}, "legend": {"legendX": 12, "legendY": 2}},
  "stroke": {"field": "s", "type": "nominal", "scale": {"domain": ["1 atm (500 μA, +13.7 kV)", "3 atm (20 μA, +17.4 kV)"], "range": ["#000000", "#333333"]}, "legend": {"legendX": 12, "legendY": 2}}
 }
},
{
 "width": 489, "height": 362,
 "title": {"text": "(c)"},
 "transform": [{"filter": {"field": "s", "oneOf": ["1 atm (20 μA, -8.9 kV)", "2 atm (20 μA, -12.9 kV)", "3 atm (20 μA, -16.7 kV)"]}}],
 "mark": {"type": "point", "size": 100, "strokeWidth": 1.4, "opacity": 1},
 "encoding": {
  "x": {"field": "d", "type": "quantitative", "title": "NaCl particle diameter (nm)", "scale": {"type": "log", "domain": [40, 400], "nice": false},
        "axis": {"values": [40,50,60,70,80,90,100,110,120,130,140,150,160,170,180,190,200,210,220,230,240,250,260,270,280,290,300,310,320,330,340,350,360,370,380,390,400], "format": "d",
                 "labelExpr": "(datum.value==40||datum.value==100||datum.value==200||datum.value==300||datum.value==400) ? datum.label : ''",
                 "tickSize": {"condition": {"test": "datum.value==40||datum.value==100||datum.value==200||datum.value==300||datum.value==400", "value": -9}, "value": -5},
                 "labelPadding": 11, "labelFontSize": 31, "titleFontSize": 33, "titlePadding": 17}},
  "y": {"field": "p", "type": "quantitative", "title": "Particle penetration", "scale": {"type": "log", "domain": [0.00001, 0.1], "nice": false},
        "axis": {"values": [0.00001,0.00002,0.00003,0.00004,0.00005,0.00006,0.00007,0.00008,0.00009,0.0001,0.0002,0.0003,0.0004,0.0005,0.0006,0.0007,0.0008,0.0009,0.001,0.002,0.003,0.004,0.005,0.006,0.007,0.008,0.009,0.01,0.02,0.03,0.04,0.05,0.06,0.07,0.08,0.09,0.1],
                 "labelExpr": "datum.value==0.1 ? '10⁻¹' : datum.value==0.01 ? '10⁻²' : datum.value==0.001 ? '10⁻³' : datum.value==0.0001 ? '10⁻⁴' : datum.value==0.00001 ? '10⁻⁵' : ''",
                 "tickSize": {"condition": {"test": "datum.value==0.1||datum.value==0.01||datum.value==0.001||datum.value==0.0001||datum.value==0.00001", "value": -9}, "value": -5},
                 "labelPadding": 12, "labelFontSize": 31, "titleFontSize": 33, "titlePadding": 6}},
  "shape": {"field": "s", "type": "nominal", "scale": {"domain": ["1 atm (20 μA, -8.9 kV)", "2 atm (20 μA, -12.9 kV)", "3 atm (20 μA, -16.7 kV)"], "range": ["circle", "triangle-up", "square"]}, "legend": {"legendX": 161, "legendY": 260, "rowPadding": 11}},
  "fill": {"field": "s", "type": "nominal", "scale": {"domain": ["1 atm (20 μA, -8.9 kV)", "2 atm (20 μA, -12.9 kV)", "3 atm (20 μA, -16.7 kV)"], "range": ["#000000", "#9a9a9a", "transparent"]}, "legend": {"legendX": 161, "legendY": 260, "rowPadding": 11}},
  "stroke": {"field": "s", "type": "nominal", "scale": {"domain": ["1 atm (20 μA, -8.9 kV)", "2 atm (20 μA, -12.9 kV)", "3 atm (20 μA, -16.7 kV)"], "range": ["#000000", "#9a9a9a", "#333333"]}, "legend": {"legendX": 161, "legendY": 260, "rowPadding": 11}}
 }
},
{
 "width": 489, "height": 362,
 "title": {"text": "(d)"},
 "transform": [{"filter": {"field": "s", "oneOf": ["1 atm (20 μA, +8.6 kV)", "3 atm (20 μA, +17.4 kV)"]}}],
 "mark": {"type": "point", "size": 100, "strokeWidth": 1.4, "opacity": 1},
 "encoding": {
  "x": {"field": "d", "type": "quantitative", "title": "NaCl particle diameter (nm)", "scale": {"type": "log", "domain": [40, 400], "nice": false},
        "axis": {"values": [40,50,60,70,80,90,100,110,120,130,140,150,160,170,180,190,200,210,220,230,240,250,260,270,280,290,300,310,320,330,340,350,360,370,380,390,400], "format": "d",
                 "labelExpr": "(datum.value==40||datum.value==100||datum.value==200||datum.value==300||datum.value==400) ? datum.label : ''",
                 "tickSize": {"condition": {"test": "datum.value==40||datum.value==100||datum.value==200||datum.value==300||datum.value==400", "value": -9}, "value": -5},
                 "labelPadding": 11, "labelFontSize": 31, "titleFontSize": 33, "titlePadding": 17}},
  "y": {"field": "p", "type": "quantitative", "title": "Particle penetration", "scale": {"type": "log", "domain": [0.00001, 0.1], "nice": false},
        "axis": {"values": [0.00001,0.00002,0.00003,0.00004,0.00005,0.00006,0.00007,0.00008,0.00009,0.0001,0.0002,0.0003,0.0004,0.0005,0.0006,0.0007,0.0008,0.0009,0.001,0.002,0.003,0.004,0.005,0.006,0.007,0.008,0.009,0.01,0.02,0.03,0.04,0.05,0.06,0.07,0.08,0.09,0.1],
                 "labelExpr": "datum.value==0.1 ? '10⁻¹' : datum.value==0.01 ? '10⁻²' : datum.value==0.001 ? '10⁻³' : datum.value==0.0001 ? '10⁻⁴' : datum.value==0.00001 ? '10⁻⁵' : ''",
                 "tickSize": {"condition": {"test": "datum.value==0.1||datum.value==0.01||datum.value==0.001||datum.value==0.0001||datum.value==0.00001", "value": -9}, "value": -5},
                 "labelPadding": 12, "labelFontSize": 31, "titleFontSize": 33, "titlePadding": 6}},
  "shape": {"field": "s", "type": "nominal", "scale": {"domain": ["1 atm (20 μA, +8.6 kV)", "3 atm (20 μA, +17.4 kV)"], "range": ["circle", "square"]}, "legend": {"legendX": 163, "legendY": 281}},
  "fill": {"field": "s", "type": "nominal", "scale": {"domain": ["1 atm (20 μA, +8.6 kV)", "3 atm (20 μA, +17.4 kV)"], "range": ["#000000", "transparent"]}, "legend": {"legendX": 163, "legendY": 281}},
  "stroke": {"field": "s", "type": "nominal", "scale": {"domain": ["1 atm (20 μA, +8.6 kV)", "3 atm (20 μA, +17.4 kV)"], "range": ["#000000", "#333333"]}, "legend": {"legendX": 163, "legendY": 281}}
 }
}
]
}
